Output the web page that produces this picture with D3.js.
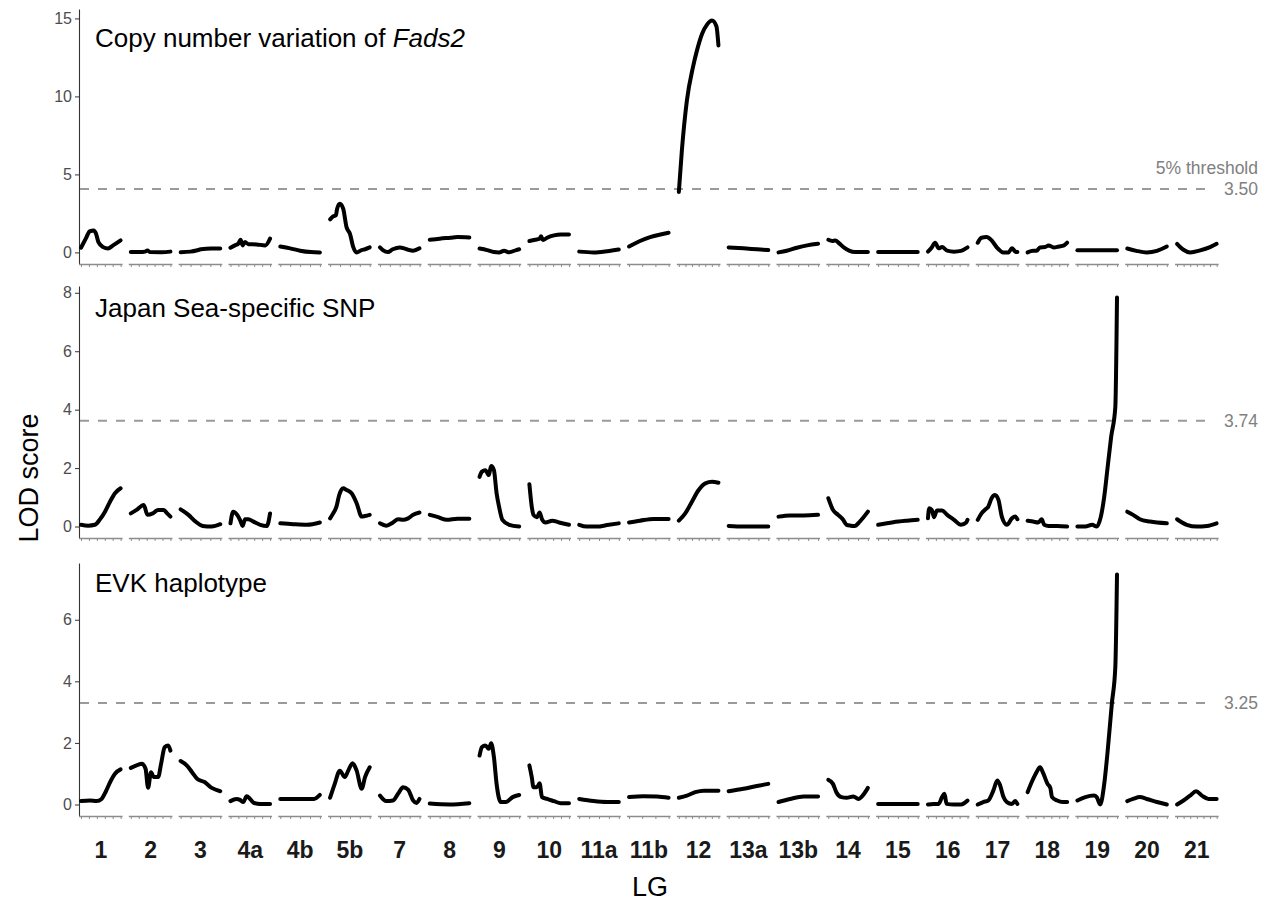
<!DOCTYPE html>
<html>
<head>
<meta charset="utf-8">
<script src="https://cdn.jsdelivr.net/npm/d3@7/dist/d3.min.js"></script>
<style>
  html, body { margin: 0; padding: 0; background: #fff; }
  svg { display: block; font-family: "Liberation Sans", Arial, Helvetica, sans-serif; }
</style>
</head>
<body>
<svg id="chart" width="1270" height="903"></svg>
<script>
// ---------------- DATA ----------------
const lgNames = ["1","2","3","4a","4b","5b","7","8","9","10","11a","11b","12","13a","13b","14","15","16","17","18","19","20","21"];
// linkage group lengths (cM)
const lgLengths = [50,50,40,50,40,40,40,40,40,50,40,30,60,40,40,40,40,50,40,50,40,40,60];

const panelTitles = ["Copy number variation of ", "Japan Sea-specific SNP", "EVK haplotype"];
const panelTitleItalic = ["Fads2", "", ""];
const thresholdValues = [4.07, 3.62, 3.30];
const thresholdLabels = ["3.50", "3.74", "3.25"];
const yTickValues = [[0,5,10,15],[0,2,4,6,8],[0,2,4,6]];

// LOD profiles: one list of [cM, LOD] per linkage group
const cnvCurves = [
  [[0,0.3],[6,0.88],[11,1.35],[16,1.41],[19,1.2],[22,0.66],[28,0.34],[34,0.25],[40.5,0.45],[50,0.77]],
  [[0,0.02],[12,0.02],[18,0.05],[21,0.13],[24,0.02],[39,0.01],[50,0.05]],
  [[0,0.01],[10,0.05],[16,0.12],[20.5,0.2],[31,0.25],[40,0.25]],
  [[0,0.3],[5.6,0.45],[9.8,0.55],[12.8,0.81],[15.4,0.45],[18.4,0.66],[22.6,0.53],[33,0.51],[44,0.45],[50,0.88]],
  [[0,0.38],[10,0.26],[20,0.11],[31,0.02],[40,0.0]],
  [[0,2.12],[3,2.31],[5.8,2.37],[7.1,2.8],[9.8,3.12],[13.2,2.8],[16.6,1.62],[20,1.2],[23.4,0.34],[26.8,0.0],[31.9,0.15],[35.3,0.2],[40,0.32]],
  [[0,0.32],[3,0.15],[8,0.02],[13,0.2],[20,0.32],[27,0.2],[33.6,0.11],[40,0.26]],
  [[0,0.81],[10,0.88],[21,0.94],[28,0.98],[40,0.96]],
  [[0,0.25],[7.6,0.15],[14.5,0.02],[19.7,0.0],[24.8,0.1],[30,0.01],[37,0.15],[40,0.2]],
  [[0,0.73],[7.3,0.81],[12.9,0.88],[14.7,1.03],[17.2,0.79],[22.4,0.94],[31,1.09],[39.7,1.15],[50,1.15]],
  [[0,0.05],[14.5,0.0],[28.3,0.08],[40,0.19]],
  [[0,0.38],[8.3,0.73],[16,0.98],[23.8,1.15],[30,1.26]],
  [[0,3.87],[4.6,6.54],[12.2,9.74],[21.4,11.88],[27.5,12.95],[35.1,14.0],[42.7,14.6],[50.3,14.86],[56.9,14.5],[60,13.27]],
  [[0,0.32],[15,0.26],[28.5,0.2],[40,0.15]],
  [[0,0.0],[8.3,0.11],[18.6,0.3],[29,0.45],[40,0.55]],
  [[0,0.81],[4,0.73],[7,0.76],[11,0.58],[16,0.3],[21,0.12],[27,0.03],[40,0.03]],
  [[0,0.03],[20,0.02],[40,0.02]],
  [[0,0.05],[4.8,0.32],[9.1,0.62],[13.5,0.26],[17.8,0.34],[24.3,0.11],[33,0.05],[41.7,0.1],[50,0.32]],
  [[0,0.62],[3.8,0.94],[8.9,0.98],[14,0.77],[19,0.34],[26,0.0],[31,0.0],[34.5,0.26],[38,0.05],[40,0.02]],
  [[0,0.0],[7,0.1],[11.3,0.1],[15.7,0.32],[22.2,0.34],[26.5,0.45],[33,0.32],[39.6,0.38],[46,0.45],[50,0.62]],
  [[0,0.14],[20,0.14],[40,0.14]],
  [[0,0.25],[9.3,0.1],[19.7,0.0],[30,0.1],[40,0.38]],
  [[0,0.55],[9.7,0.17],[19.8,0.0],[35,0.13],[50,0.34],[60,0.55]]
];

const snpCurves = [
  [[0,0.06],[9,0.03],[17.6,0.06],[24,0.25],[30.3,0.51],[36.6,0.85],[42.9,1.14],[50,1.31]],
  [[0,0.45],[7.3,0.57],[16.4,0.74],[20.9,0.4],[27.7,0.45],[34.5,0.57],[41.4,0.57],[45.9,0.45],[50,0.34]],
  [[0,0.59],[7.9,0.4],[15.1,0.17],[22.3,0.02],[31.4,0.0],[40,0.08]],
  [[0,0.11],[3.4,0.51],[8.5,0.4],[12,0.23],[15.4,0.02],[18.4,0.25],[22.6,0.25],[29,0.17],[37.6,0.06],[46,0.02],[50,0.45]],
  [[0,0.11],[13,0.08],[27,0.06],[40,0.14]],
  [[0,0.28],[3.1,0.45],[6.4,0.68],[9.2,1.08],[13.2,1.31],[16.6,1.25],[21.7,1.14],[26.8,0.8],[31.9,0.34],[35.3,0.36],[40,0.4]],
  [[0,0.11],[6.4,0.03],[13.2,0.14],[18.3,0.25],[23.4,0.23],[28.5,0.28],[33.6,0.4],[40,0.48]],
  [[0,0.4],[8.5,0.32],[17.3,0.23],[28,0.27],[40,0.27]],
  [[0,1.7],[2.4,1.88],[5.9,1.93],[9.3,1.76],[11.7,2.07],[14.5,1.93],[17.2,1.14],[19.7,0.68],[23.1,0.23],[30,0.06],[40,0.0]],
  [[0,1.45],[3,0.68],[5.2,0.4],[9.5,0.32],[12.9,0.48],[15.9,0.25],[20.3,0.14],[28.9,0.2],[37.5,0.14],[50,0.06]],
  [[0,0.06],[7.6,0.0],[17.9,0.0],[28.3,0.05],[40,0.11]],
  [[0,0.14],[8.3,0.2],[18.6,0.26],[30,0.26]],
  [[0,0.2],[9.7,0.45],[19.8,0.85],[30,1.25],[40.2,1.48],[50.3,1.53],[60,1.5]],
  [[0,0.02],[15,0.0],[28.5,0.0],[40,0.0]],
  [[0,0.34],[11.7,0.38],[25.5,0.38],[40,0.4]],
  [[0,0.97],[4.7,0.57],[9.9,0.4],[15,0.23],[18.5,0.06],[22.6,0.03],[26.7,0.02],[31.8,0.17],[40,0.51]],
  [[0,0.06],[15.3,0.15],[29.2,0.2],[40,0.23]],
  [[0,0.28],[1.7,0.63],[4.8,0.57],[7.8,0.32],[11.3,0.55],[17.8,0.55],[24.3,0.4],[33,0.23],[41.7,0.06],[48.3,0.14],[50,0.23]],
  [[0,0.23],[3.8,0.45],[7.2,0.57],[10.6,0.68],[14,0.97],[17.4,1.08],[20.9,0.91],[24.3,0.34],[29.4,0.06],[34.5,0.28],[37.9,0.34],[40,0.25]],
  [[0,0.2],[7,0.17],[13.5,0.14],[17.8,0.25],[20.9,0.06],[26.5,0.02],[37.4,0.02],[50,0.0]],
  [[0,0.0],[8,0.0],[15,0.06],[19.5,0.0],[23.7,0.34],[27.1,1.02],[30.6,2.05],[34.1,3.07],[38.3,4.09],[40,7.84]],
  [[0,0.51],[5.9,0.4],[12.8,0.25],[23.1,0.17],[40,0.11]],
  [[0,0.25],[14.7,0.06],[30,0.0],[45.3,0.02],[60,0.11]]
];

const evkCurves = [
  [[0,0.11],[11.3,0.13],[19.7,0.11],[26,0.18],[31.5,0.43],[37.8,0.78],[42.9,1.0],[50,1.14]],
  [[0,1.19],[7.3,1.27],[14.1,1.32],[18.6,1.16],[21.8,0.54],[25.5,1.05],[29.1,0.89],[34.5,0.89],[38.2,1.32],[42.7,1.86],[47.3,1.92],[50,1.75]],
  [[0,1.41],[6.1,1.27],[11.5,1.05],[16.9,0.83],[24.1,0.73],[31.4,0.54],[40,0.43]],
  [[0,0.11],[7.7,0.18],[12,0.15],[16.2,0.08],[20.5,0.27],[24.8,0.18],[29.9,0.05],[37.6,0.02],[50,0.02]],
  [[0,0.18],[20.3,0.18],[34.1,0.18],[40,0.31]],
  [[0,0.22],[4.7,0.67],[9.8,1.1],[14.9,0.89],[18.3,1.1],[22.7,1.34],[26.8,1.1],[31.9,0.51],[35.3,0.89],[40,1.21]],
  [[0,0.29],[6.4,0.11],[13.2,0.13],[18.3,0.35],[23.4,0.56],[28.5,0.48],[33.6,0.13],[37,0.05],[40,0.18]],
  [[0,0.03],[20,0.0],[40,0.04]],
  [[0,1.59],[2.4,1.86],[5.9,1.92],[9.3,1.81],[11.7,1.99],[14.5,1.54],[17.2,0.67],[21.4,0.08],[26.6,0.08],[33.4,0.24],[40,0.31]],
  [[0,1.27],[3,0.89],[5.2,0.56],[9.5,0.56],[12.9,0.69],[15.9,0.24],[22.4,0.18],[31,0.11],[39.7,0.04],[50,0.04]],
  [[0,0.18],[14.5,0.11],[28.3,0.08],[40,0.08]],
  [[0,0.24],[10.9,0.27],[21.2,0.26],[30,0.22]],
  [[0,0.22],[12.2,0.29],[24.9,0.4],[37.6,0.45],[60,0.45]],
  [[0,0.43],[15,0.51],[28.5,0.6],[40,0.67]],
  [[0,0.08],[11.7,0.18],[25.5,0.26],[40,0.26]],
  [[0,0.8],[4.7,0.67],[8.1,0.4],[13.3,0.24],[18.5,0.22],[25.3,0.26],[30.4,0.18],[35.5,0.32],[40,0.54]],
  [[0,0.02],[20,0.02],[40,0.02]],
  [[0,0.0],[7,0.02],[13.5,0.02],[17.8,0.24],[20.9,0.35],[23.5,0.02],[33,0.0],[41.7,0.0],[50,0.13]],
  [[0,0.0],[5.5,0.08],[10.6,0.13],[15.7,0.45],[19.8,0.78],[22.6,0.62],[26,0.24],[29.4,0.08],[34.5,0.02],[37.9,0.11],[40,0.02]],
  [[0,0.4],[6.1,0.78],[11.3,1.05],[15.7,1.21],[20,1.0],[25.2,0.67],[28.7,0.54],[30.9,0.24],[37.4,0.13],[43.9,0.08],[50,0.08]],
  [[0,0.13],[8,0.24],[16.7,0.29],[19.5,0.24],[23,0.0],[27.1,0.67],[30.6,1.75],[34.8,3.28],[38.3,4.46],[40,7.47]],
  [[0,0.11],[5.9,0.18],[12.8,0.24],[19.7,0.18],[30,0.08],[40,0.0]],
  [[0,0.0],[9.7,0.13],[19.8,0.29],[29,0.43],[37.6,0.29],[47.8,0.18],[60,0.18]]
];

// ---------------- LAYOUT ----------------
const panels = [cnvCurves, snpCurves, evkCurves];
const panelTop = [9, 286, 563];
const panelBottom = [264, 538, 816];
const titleY = [47, 317, 592];
const axisX = 79;
const lgStep = 49.82;
const lgWidth = 43.6;
const thrRight = 1213;
const labelRight = 1258;

const svg = d3.select("#chart");

panels.forEach((curves, p) => {
  const g = svg.append("g");
  const all = curves.flat();
  const ymin = Math.min(0, d3.min(all, d => d[1]));
  const ymax = d3.max(all, d => d[1]);
  const pad = (ymax - ymin) * 0.05;
  const y = d3.scaleLinear().domain([ymin - pad, ymax + pad]).range([panelBottom[p], panelTop[p]]);

  // y axis
  const ya = g.append("g").attr("transform", `translate(${axisX},0)`)
    .call(d3.axisLeft(y).tickValues(yTickValues[p]).tickSize(4).tickSizeOuter(0).tickPadding(3));
  ya.select(".domain").attr("stroke", "#333").attr("stroke-width", 1.1);
  ya.selectAll(".tick line").attr("stroke", "#333");
  ya.selectAll(".tick text").attr("font-size", 16).attr("fill", "#4d4d4d")
    .attr("font-family", "Liberation Sans, Arial, sans-serif");

  // threshold line
  const ty = y(thresholdValues[p]);
  g.append("line").attr("x1", axisX + 1).attr("x2", thrRight).attr("y1", ty).attr("y2", ty)
    .attr("stroke", "#9a9a9a").attr("stroke-width", 2).attr("stroke-dasharray", "9,9");
  g.append("text").attr("x", labelRight).attr("y", ty).attr("dy", "0.36em")
    .attr("text-anchor", "end").attr("font-size", 17.5).attr("fill", "#808080")
    .text(thresholdLabels[p]);
  if (p === 0) {
    g.append("text").attr("x", labelRight).attr("y", ty - 21).attr("dy", "0.36em")
      .attr("text-anchor", "end").attr("font-size", 17.5).attr("fill", "#808080")
      .text("5% threshold");
  }

  // per-LG x axes and curves
  curves.forEach((pts, i) => {
    const left = axisX + i * lgStep;
    const L = lgLengths[i];
    const x = d3.scaleLinear().domain([0, L]).range([left + 2, left + lgWidth - 2]);
    const xa = g.append("g").attr("transform", `translate(0,${panelBottom[p]})`)
      .call(d3.axisBottom(x).tickValues(d3.range(0, L + 1e-9, 10)).tickSize(3).tickSizeOuter(0).tickFormat(""));
    xa.select(".domain").attr("d", `M${left},0.5H${left + lgWidth}`)
      .attr("stroke", "#8c8c8c").attr("stroke-width", 1.6);
    xa.selectAll(".tick line").attr("stroke", "#8c8c8c");

    const line = d3.line().x(d => x(d[0])).y(d => y(d[1])).curve(d3.curveMonotoneX);
    g.append("path").datum(pts).attr("d", line)
      .attr("fill", "none").attr("stroke", "#000").attr("stroke-width", 4)
      .attr("stroke-linejoin", "round").attr("stroke-linecap", "round");

    if (p === panels.length - 1) {
      svg.append("text").attr("x", left + lgWidth / 2).attr("y", 858)
        .attr("text-anchor", "middle").attr("font-size", 23).attr("font-weight", "bold")
        .attr("fill", "#1a1a1a").text(lgNames[i]);
    }
  });

  // title
  const t = g.append("text").attr("x", 95).attr("y", titleY[p]).attr("font-size", 26).attr("fill", "#000");
  t.append("tspan").text(panelTitles[p]);
  if (panelTitleItalic[p]) t.append("tspan").attr("font-style", "italic").text(panelTitleItalic[p]);
});

// axis titles
svg.append("text").attr("transform", "translate(38,478) rotate(-90)")
  .attr("text-anchor", "middle").attr("font-size", 27).attr("fill", "#000").text("LOD score");
svg.append("text").attr("x", 650).attr("y", 896)
  .attr("text-anchor", "middle").attr("font-size", 27).attr("fill", "#000").text("LG");
</script>
</body>
</html>
